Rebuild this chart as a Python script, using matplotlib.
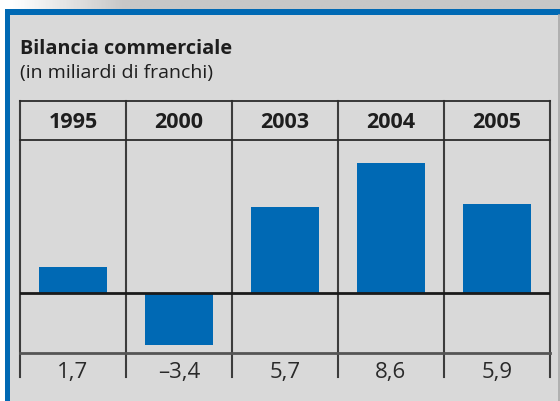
import matplotlib
matplotlib.use("Agg")
import matplotlib.pyplot as plt
import numpy as np
from matplotlib.patches import Rectangle
from matplotlib.lines import Line2D

years = ["1995", "2000", "2003", "2004", "2005"]
values = [1.7, -3.4, 5.7, 8.6, 5.9]
value_labels = ["1,7", "\u20133,4", "5,7", "8,6", "5,9"]
title = "Bilancia commerciale"
subtitle = "(in miliardi di franchi)"

BG = "#d9d9d9"
BLUE = "#0069b4"
LINE = "#3c3c3c"
FONT = ["Open Sans", "DejaVu Sans"]

W, H = 560, 401
fig = plt.figure(figsize=(W / 100, H / 100), dpi=100, facecolor=BG)

def fx(px):
    return px / W

def fy(py):
    return 1 - py / H

# top shadow gradient
gax = fig.add_axes([0, fy(9), 1, 9 / H])
gx = np.linspace(0, 1, 200)
grad = np.clip((gx - 0.02) / 0.2, 0, 1)
img = 1 - 0.22 * grad
gax.imshow(np.tile(img, (10, 1)), cmap="gray", vmin=0, vmax=1, aspect="auto",
           extent=[0, 1, 0, 1])
gax.set_axis_off()

# white left margin
fig.patches.append(Rectangle((0, 0), fx(5), fy(9), transform=fig.transFigure,
                             facecolor="white", edgecolor="none", zorder=0))
# blue frame
fig.patches.append(Rectangle((fx(5), fy(15)), 1 - fx(5), 6 / H, transform=fig.transFigure,
                             facecolor=BLUE, edgecolor="none", zorder=1))
fig.patches.append(Rectangle((fx(5), 0), 5 / W, fy(9), transform=fig.transFigure,
                             facecolor=BLUE, edgecolor="none", zorder=1))
# right thin gray edge
fig.lines.append(Line2D([fx(558.5), fx(558.5)], [0, fy(15)], transform=fig.transFigure,
                        color="#a8a8a8", lw=1.2))

fig.text(fx(20), fy(54), title, fontsize=14.3, fontweight="bold", family=FONT,
         color="#1e1e1e", va="baseline", ha="left")
fig.text(fx(20), fy(78), subtitle, fontsize=14, family=FONT,
         color="#1e1e1e", va="baseline", ha="left")

# main axes: data region between header bottom (140) and lower line (353)
top_px, bot_px = 140, 353
ax = fig.add_axes([fx(20), fy(bot_px), fx(550) - fx(20), (bot_px - top_px) / H])
ax.set_facecolor("none")
ax.set_xlim(-0.5, len(years) - 0.5)
ax.set_ylim(-3.96, 10.1)
for s in ax.spines.values():
    s.set_visible(False)
ax.set_xticks([])
ax.set_yticks([])

x = np.arange(len(years))
ax.bar(x, values, width=0.65, color=BLUE, zorder=2)

hpx = bot_px - top_px
def ay(py):
    return (bot_px - py) / hpx

# vertical grid lines
for b in np.arange(-0.5, len(years), 1.0):
    ax.plot([b, b], [ay(377), ay(101)], transform=ax.get_xaxis_transform(),
            color=LINE, lw=1.5, clip_on=False, zorder=3)
# horizontal lines
ax.plot([0, 1], [ay(101), ay(101)], transform=ax.transAxes, color="#2a2a2a", lw=1.3, clip_on=False, zorder=3)
ax.plot([0, 1], [ay(140), ay(140)], transform=ax.transAxes, color="#2a2a2a", lw=1.3, clip_on=False, zorder=3)
ax.plot([0, 1], [ay(353), ay(353)], transform=ax.transAxes, color="#555555", lw=2.0, clip_on=False, zorder=3)
ax.axhline(0, color="#1a1a1a", lw=2.0, zorder=4)

xt = ax.get_xaxis_transform()
for i, (yr, lab) in enumerate(zip(years, value_labels)):
    ax.text(i, ay(128.5), yr, transform=xt, ha="center", va="baseline",
            fontsize=15.5, fontweight="bold", family=FONT, color="#1e1e1e")
    ax.text(i, ay(378), lab, transform=xt, ha="center", va="baseline",
            fontsize=16, family=FONT, color="#2a2a2a")

fig.savefig("out.png", dpi=100, facecolor=BG)
